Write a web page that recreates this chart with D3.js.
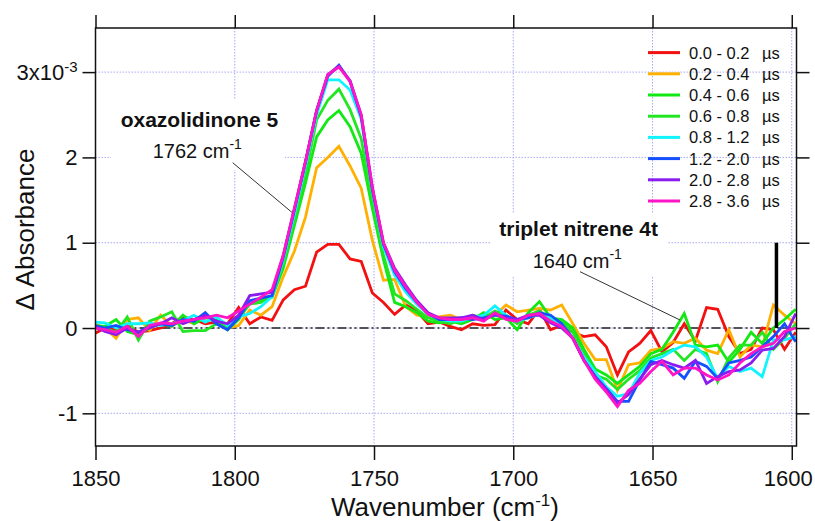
<!DOCTYPE html>
<html><head><meta charset="utf-8">
<script src="https://cdn.jsdelivr.net/npm/d3@7"></script>
<style>
body{margin:0;background:#fff}
svg{display:block}
text{font-family:"Liberation Sans",Arial,Helvetica,sans-serif;fill:#111}
</style>
</head><body>
<svg id="chart" width="815" height="521"></svg>
<script>
// ---------- data ----------
const wavenumber = [1850.6,1846.6,1842.6,1838.6,1834.6,1830.6,1826.6,1822.6,1818.6,1814.6,
  1810.6,1806.6,1802.6,1798.6,1794.6,1790.6,1786.6,1782.6,1778.6,1774.6,
  1770.6,1766.6,1762.6,1758.6,1754.6,1750.6,1746.6,1742.6,1738.6,1734.6,
  1730.6,1726.6,1722.6,1718.6,1714.6,1710.6,1706.6,1702.6,1698.6,1694.6,
  1690.6,1686.6,1682.6,1678.6,1674.6,1670.6,1666.6,1662.6,1658.6,1654.6,
  1650.6,1646.6,1642.6,1638.6,1634.6,1630.6,1626.6,1622.6,1618.6,1614.6,
  1610.6,1606.6,1602.6,1598.6];

const dA_00_02 = [-0.07,0.0,-0.02,0.03,-0.05,-0.03,0.0,0.05,0.13,0.1,0.05,0.07,0.05,0.24,0.05,0.13,0.09,
  0.33,0.45,0.49,0.89,0.98,0.98,0.81,0.78,0.41,0.3,0.16,0.27,0.2,0.05,
  0.07,0.02,-0.02,0.05,0.03,0.04,0.21,0.1,0.05,0.22,-0.02,0.03,-0.05,-0.1,-0.08,-0.22,
  -0.55,-0.28,-0.18,-0.03,-0.28,-0.17,0.05,-0.15,0.24,0.22,-0.1,-0.3,-0.25,0.0,-0.02,-0.25,-0.05];
const dA_02_04 = [0.05,0.0,-0.12,0.1,0.12,-0.03,0.15,0.02,0.1,0.05,0.13,0.1,0.0,0.03,0.21,0.15,0.25,
  0.6,0.9,1.3,1.88,2.0,2.13,1.9,1.64,1.03,0.56,0.57,0.25,0.15,0.13,
  0.13,0.15,0.1,0.12,0.1,0.15,0.27,0.19,0.21,0.23,0.21,0.27,0.05,-0.18,-0.37,-0.37,
  -0.73,-0.43,-0.41,-0.26,-0.24,-0.16,-0.18,-0.12,-0.26,-0.3,-0.02,-0.34,-0.2,-0.22,0.27,0.15,0.05];
const dA_04_06 = [0.03,0.02,0.1,-0.04,-0.08,0.0,0.05,0.02,0.15,0.05,0.12,0.1,-0.02,0.1,0.3,0.33,0.36,
  0.7,1.2,1.7,2.24,2.44,2.55,2.36,2.05,1.4,0.8,0.3,0.25,0.18,0.08,
  0.06,0.08,0.05,0.1,0.18,0.1,0.12,-0.02,0.18,0.31,0.12,0.1,0.0,-0.25,-0.48,-0.55,
  -0.65,-0.55,-0.45,-0.3,-0.25,-0.05,0.17,-0.2,-0.22,-0.2,-0.4,-0.25,-0.05,-0.18,0.0,0.1,0.22];
const dA_06_08 = [0.02,0.0,-0.05,0.13,-0.14,0.08,0.13,0.19,-0.04,-0.03,-0.03,0.05,0.0,0.12,0.28,0.3,0.38,
  0.75,1.25,1.8,2.44,2.67,2.8,2.56,2.22,1.5,0.85,0.4,0.32,0.22,0.12,
  0.08,0.05,0.1,0.15,0.12,0.2,0.15,0.05,0.15,0.2,0.1,0.08,-0.05,-0.3,-0.55,-0.6,
  -0.72,-0.6,-0.5,-0.35,-0.3,-0.25,-0.38,-0.25,-0.3,-0.63,-0.35,-0.2,-0.2,-0.05,-0.25,-0.12,0.05];
const dA_08_12 = [0.07,0.06,0.0,0.05,0.05,0.06,0.03,0.05,0.09,0.15,0.07,0.13,0.03,0.13,0.17,0.25,0.37,
  0.8,1.33,1.9,2.5,2.91,2.91,2.79,2.45,1.6,0.95,0.62,0.42,0.28,0.16,
  0.1,0.08,0.08,0.12,0.15,0.26,0.15,0.08,0.12,0.16,0.12,0.05,-0.12,-0.34,-0.51,-0.69,
  -0.8,-0.77,-0.53,-0.38,-0.34,-0.26,-0.2,-0.22,-0.34,-0.59,-0.45,-0.51,-0.47,-0.57,-0.14,-0.14,-0.1];
const dA_12_20 = [0.03,0.0,0.03,-0.02,-0.05,0.02,0.05,0.03,0.1,0.08,0.18,0.05,-0.02,0.12,0.32,0.35,0.38,
  0.83,1.38,1.95,2.55,2.95,3.08,2.89,2.48,1.62,0.98,0.66,0.46,0.3,0.17,
  0.1,0.1,0.12,0.1,0.12,0.15,0.14,0.1,0.12,0.18,0.15,0.05,-0.12,-0.38,-0.57,-0.71,
  -0.86,-0.86,-0.61,-0.39,-0.43,-0.47,-0.59,-0.39,-0.45,-0.59,-0.41,-0.38,-0.34,-0.22,-0.1,0.05,-0.16];
const dA_20_28 = [0.02,-0.04,-0.08,0.0,-0.05,0.0,0.05,0.12,0.05,0.1,0.15,0.08,0.05,0.15,0.38,0.4,0.42,
  0.85,1.4,1.95,2.55,2.97,3.07,2.9,2.5,1.65,1.0,0.7,0.5,0.32,0.18,
  0.12,0.12,0.12,0.15,0.1,0.16,0.12,0.1,0.15,0.15,0.06,0.0,-0.12,-0.38,-0.57,-0.72,
  -0.88,-0.78,-0.6,-0.43,-0.38,-0.43,-0.47,-0.38,-0.65,-0.57,-0.51,-0.49,-0.41,-0.26,-0.24,-0.1,0.17];
const dA_28_36 = [0.0,-0.02,-0.05,0.02,-0.1,0.03,0.06,0.05,0.08,0.1,0.12,0.15,0.12,0.2,0.28,0.36,0.45,
  0.85,1.4,1.95,2.55,2.97,3.06,2.89,2.5,1.65,1.0,0.68,0.48,0.3,0.16,
  0.12,0.1,0.1,0.12,0.08,0.18,0.1,0.08,0.15,0.17,0.08,0.02,-0.12,-0.38,-0.6,-0.75,
  -0.92,-0.73,-0.65,-0.51,-0.39,-0.55,-0.47,-0.47,-0.55,-0.61,-0.55,-0.41,-0.3,-0.22,-0.18,-0.04,0.0];

const seriesValues = [dA_00_02, dA_02_04, dA_04_06, dA_06_08, dA_08_12, dA_12_20, dA_20_28, dA_28_36];
const seriesLabels = ["0.0 - 0.2", "0.2 - 0.4", "0.4 - 0.6", "0.6 - 0.8", "0.8 - 1.2", "1.2 - 2.0", "2.0 - 2.8", "2.8 - 3.6"];
const seriesUnit = "\u00b5s";
const seriesColors = ["#f21010", "#ffb000", "#12e812", "#22e622", "#10f4ff", "#1450ff", "#8a1cf0", "#ff14c8"];

const xTicks = [1850, 1800, 1750, 1700, 1650, 1600];
const yTicks = [-1, 0, 1, 2, 3];
const scaleBar = {wn: 1605.5, from: 0, to: 1};

// ---------- layout ----------
const svg = d3.select("#chart");
const L = 95.5, R = 796.5, T = 28, B = 446;
const x = d3.scaleLinear().domain([1850, 1598.3]).range([L, R]);
const y = d3.scaleLinear().domain([-1.383, 3.517]).range([B, T]);

svg.append("defs").append("clipPath").attr("id", "plotclip")
  .append("rect").attr("x", L).attr("y", T).attr("width", R - L).attr("height", B - T);

// grid
const grid = svg.append("g").attr("stroke", "#a9a9f5").attr("stroke-width", 1).attr("stroke-dasharray", "1.5,1.5");
grid.selectAll("line.gx").data(xTicks.filter(d => d !== 1850)).join("line")
  .attr("x1", d => x(d)).attr("x2", d => x(d)).attr("y1", T).attr("y2", B);
grid.selectAll("line.gy").data(yTicks).join("line")
  .attr("x1", L).attr("x2", R).attr("y1", d => y(d)).attr("y2", d => y(d));

// annotation background boxes (hide grid)
svg.append("rect").attr("x", 111).attr("y", 100).attr("width", 174).attr("height", 70).attr("fill", "#fff");
svg.append("rect").attr("x", 490).attr("y", 213).attr("width", 177).attr("height", 64).attr("fill", "#fff");

// zero line
svg.append("line").attr("x1", L).attr("x2", R).attr("y1", y(0)).attr("y2", y(0))
  .attr("stroke", "#222").attr("stroke-width", 1.5).attr("stroke-dasharray", "9,3,2,3,2,3");

// data lines
const line = d3.line().x((d, i) => x(wavenumber[i])).y(d => y(d));
svg.append("g").attr("clip-path", "url(#plotclip)")
  .selectAll("path").data(seriesValues).join("path")
  .attr("d", d => line(d)).attr("fill", "none")
  .attr("stroke", (d, i) => seriesColors[i]).attr("stroke-width", 2.8)
  .attr("stroke-linejoin", "miter").attr("stroke-miterlimit", 3);

// scale bar
svg.append("line").attr("x1", x(scaleBar.wn)).attr("x2", x(scaleBar.wn))
  .attr("y1", y(scaleBar.from)).attr("y2", y(scaleBar.to))
  .attr("stroke", "#000").attr("stroke-width", 3.5);

// frame
svg.append("rect").attr("x", L).attr("y", T).attr("width", R - L).attr("height", B - T)
  .attr("fill", "none").attr("stroke", "#111").attr("stroke-width", 1.5);

// axes
function styleAxis(g) {
  g.select(".domain").remove();
  g.selectAll(".tick line").attr("stroke", "#111").attr("stroke-width", 1.5);
  g.selectAll(".tick text").attr("fill", "#111").style("font-size", "22px")
   .style("font-family", '"Liberation Sans",Arial,sans-serif');
}
const xAx = svg.append("g").attr("transform", `translate(0,${B})`)
  .call(d3.axisBottom(x).tickValues(xTicks).tickSize(14).tickPadding(10).tickFormat(d3.format("d")))
  .call(styleAxis);
xAx.selectAll(".tick text").filter(d => d === 1600).attr("dx", "-4");
svg.append("g").attr("transform", `translate(0,${T})`)
  .call(d3.axisTop(x).tickValues(xTicks).tickSize(13).tickFormat(""))
  .call(styleAxis);
svg.append("g").attr("transform", `translate(${R},0)`)
  .call(d3.axisRight(y).tickValues(yTicks).tickSize(13).tickFormat(""))
  .call(styleAxis);
const yAx = svg.append("g").attr("transform", `translate(${L},0)`)
  .call(d3.axisLeft(y).tickValues(yTicks).tickSize(13).tickPadding(5).tickFormat(d => d === 3 ? "" : String(d)))
  .call(styleAxis);
yAx.selectAll(".tick text").filter(d => d === 3).each(function () {
  const t = d3.select(this);
  t.append("tspan").text("3x10");
  t.append("tspan").text("-3").style("font-size", "15px").attr("dy", "-0.5em");
});

// axis titles
const xt = svg.append("text").attr("x", 445).attr("y", 516).attr("text-anchor", "middle").style("font-size", "26px");
xt.append("tspan").text("Wavenumber (cm");
xt.append("tspan").text("-1").style("font-size", "17px").attr("dy", "-10");
xt.append("tspan").text(")").attr("dy", "10");

svg.append("text").attr("transform", "translate(34,229.5) rotate(-90)")
  .attr("text-anchor", "middle").style("font-size", "26px").text("\u0394 Absorbance");

// legend
const leg = svg.append("g");
seriesLabels.forEach((lab, i) => {
  const yy = 52.6 + 21.2 * i;
  leg.append("line").attr("x1", 648).attr("x2", 680).attr("y1", yy).attr("y2", yy)
    .attr("stroke", seriesColors[i]).attr("stroke-width", 3);
  leg.append("text").attr("x", 689).attr("y", yy + 6).style("font-size", "16.5px").text(lab);
  leg.append("text").attr("x", 762).attr("y", yy + 6).style("font-size", "16.5px").text(seriesUnit);
});

// annotations
const ann = svg.append("g");
ann.append("line").attr("x1", 232.7).attr("y1", 162.7).attr("x2", 292.3).attr("y2", 212.7)
  .attr("stroke", "#333").attr("stroke-width", 1);
ann.append("line").attr("x1", 580).attr("y1", 271.7).attr("x2", 680).attr("y2", 320)
  .attr("stroke", "#333").attr("stroke-width", 1);

ann.append("text").attr("x", 120.7).attr("y", 126.7).style("font-size", "21px").style("font-weight", "bold")
  .text("oxazolidinone 5");
const a1 = ann.append("text").attr("x", 152.7).attr("y", 158.3).style("font-size", "20px");
a1.append("tspan").text("1762 cm");
a1.append("tspan").text("-1").style("font-size", "14px").attr("dy", "-9");

ann.append("text").attr("x", 499.3).attr("y", 236).style("font-size", "21px").style("font-weight", "bold")
  .text("triplet nitrene 4t");
const a2 = ann.append("text").attr("x", 532.7).attr("y", 268).style("font-size", "20px");
a2.append("tspan").text("1640 cm");
a2.append("tspan").text("-1").style("font-size", "14px").attr("dy", "-9");
</script>
</body></html>
